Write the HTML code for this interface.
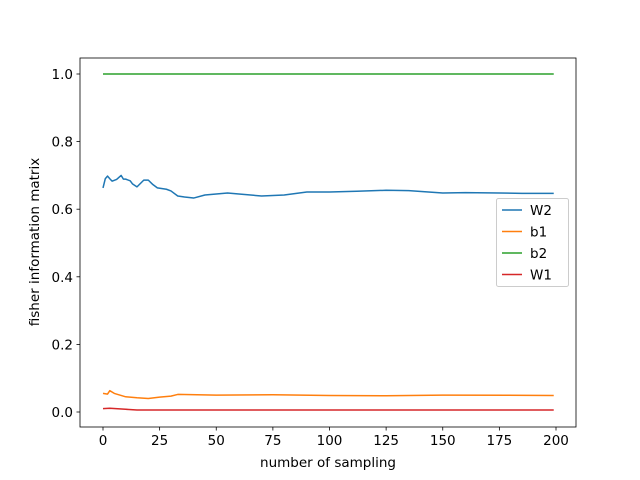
<!DOCTYPE html>
<html><head><meta charset="utf-8"><style>body{margin:0;background:#fff}svg{display:block;font-family:"DejaVu Sans","Liberation Sans",sans-serif}</style></head>
<body>
<svg id="chart" width="640" height="480"></svg>
<script>
const xTicks=[0,25,50,75,100,125,150,175,200];
const yTicks=[0.0,0.2,0.4,0.6,0.8,1.0];
const yTickLabels=["0.0","0.2","0.4","0.6","0.8","1.0"];
const w2X=[0,1,2,3,4,6,8,9,10,12,13,15,18,20,22,24,28,30,33,36,40,45,50,55,60,70,80,90,100,112,125,135,150,160,175,185,199];
const w2Y=[0.663,0.69,0.698,0.69,0.683,0.688,0.70,0.689,0.689,0.684,0.675,0.666,0.686,0.686,0.673,0.663,0.659,0.654,0.639,0.636,0.633,0.642,0.645,0.648,0.645,0.639,0.642,0.651,0.651,0.653,0.656,0.655,0.648,0.649,0.648,0.647,0.647];
const b1X=[0,2,3,5,10,15,20,25,30,33,50,75,100,125,150,199];
const b1Y=[0.055,0.053,0.063,0.055,0.045,0.042,0.040,0.044,0.047,0.052,0.050,0.051,0.049,0.048,0.050,0.049];
const b2X=[0,199];
const b2Y=[1.0,1.0];
const w1X=[0,3,10,15,199];
const w1Y=[0.010,0.011,0.008,0.006,0.006];
const series=[["W2",w2X,w2Y,"#1f77b4"],["b1",b1X,b1Y,"#ff7f0e"],["b2",b2X,b2Y,"#2ca02c"],["W1",w1X,w1Y,"#d62728"]];
const L=80,R=576,T=58,B=427;
const sx=v=>103+v*(556-103)/200;
const sy=v=>412-v*338;
const svg=document.getElementById('chart');
const NS="http://www.w3.org/2000/svg";
function mk(t,a,p){const e=document.createElementNS(NS,t);for(const k in a)e.setAttribute(k,a[k]);(p||svg).appendChild(e);return e;}
for(const s of series){
 const p=mk('path',{d:s[1].map((x,i)=>(i?'L':'M')+sx(x)+','+sy(s[2][i])).join(''),fill:'none',stroke:s[3],'stroke-width':1.5,'stroke-linejoin':'round'});
 
 
}
const fr=mk('rect',{x:L,y:T,width:R-L,height:B-T,fill:'none',stroke:'#000','stroke-width':0.8});


xTicks.forEach(v=>{
 mk('line',{x1:sx(v),x2:sx(v),y1:B,y2:B+3.5,stroke:'#000','stroke-width':0.8});
 const t=mk('text',{x:sx(v),y:B+18,'font-size':13.5,'text-anchor':'middle'});t.textContent=v;
 
 
});
yTicks.forEach((v,i)=>{
 mk('line',{x1:L,x2:L-3.5,y1:sy(v),y2:sy(v),stroke:'#000','stroke-width':0.8});
 const t=mk('text',{x:L-7,y:sy(v)+5,'font-size':13.5,'text-anchor':'end'});t.textContent=yTickLabels[i];
 
 
});
const xt=mk('text',{x:328,y:467,'font-size':13.5,'text-anchor':'middle'});xt.textContent='number of sampling';


const yt=mk('text',{x:0,y:0,'font-size':13.5,'text-anchor':'middle',transform:'translate(39,242) rotate(-90)'});yt.textContent='fisher information matrix';


const lg=mk('g',{});


mk('rect',{x:496.5,y:198.5,width:72,height:88,rx:2,fill:'#fff',stroke:'#ccc'},lg);
series.forEach((s,i)=>{
 const y=210+i*21.5;
 mk('line',{x1:502,x2:522,y1:y,y2:y,stroke:s[3],'stroke-width':1.5},lg);
 const t=mk('text',{x:530,y:y+5,'font-size':13.5},lg);t.textContent=s[0];
 
 
});
</script>
</body></html>
